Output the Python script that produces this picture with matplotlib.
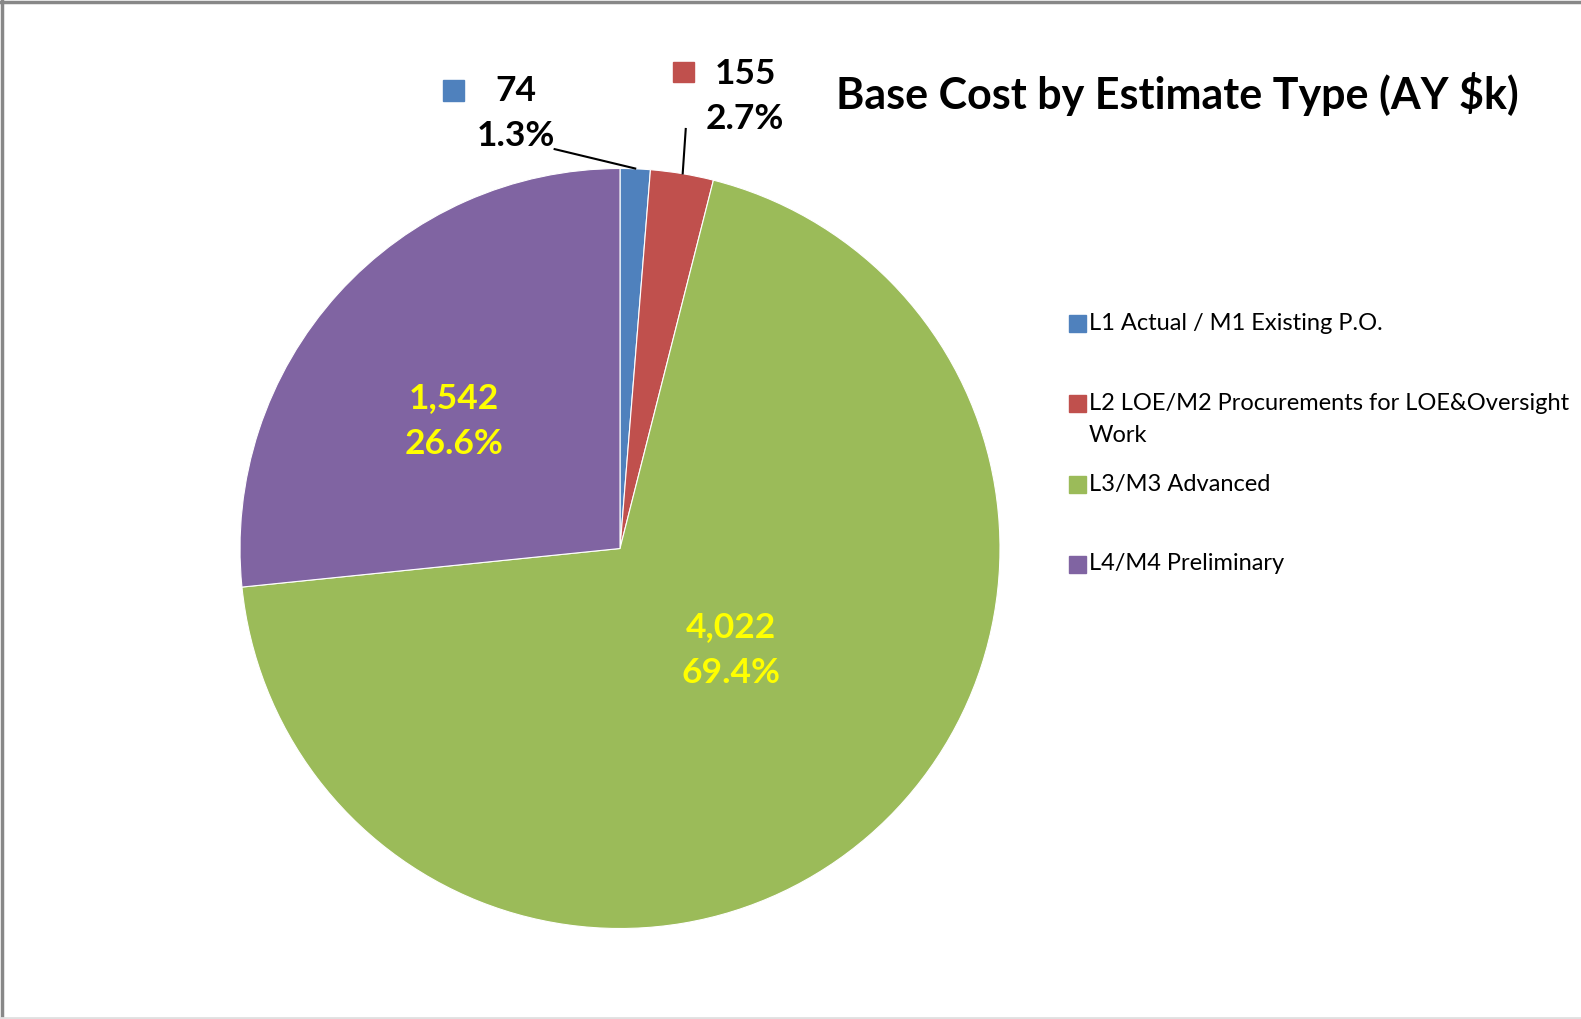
import matplotlib
matplotlib.use("Agg")
import matplotlib.pyplot as plt
from matplotlib.patches import Rectangle
from matplotlib.lines import Line2D
import numpy as np

categories = ["L1 Actual / M1 Existing P.O.",
              "L2 LOE/M2 Procurements for LOE&Oversight\nWork",
              "L3/M3 Advanced",
              "L4/M4 Preliminary"]
values = [74, 155, 4022, 1542]
pct_labels = ["1.3%", "2.7%", "69.4%", "26.6%"]
colors = ["#4F81BD", "#C0504D", "#9BBB59", "#8064A2"]
title = "Base Cost by Estimate Type (AY $k)"

W, H = 1581, 1019
fig = plt.figure(figsize=(W / 100, H / 100), dpi=100)
fig.patch.set_facecolor("white")
FONT = "Lato"

# pie axes: center (620, 548.5), radius 380 px
cx, cy, r = 620, 548.5, 380
ax = fig.add_axes([(cx - r) / W, 1 - (cy + r) / H, 2 * r / W, 2 * r / H])
ax.axis("off")

wedges, _ = ax.pie(values, colors=colors, startangle=90, counterclock=False,
                   radius=1, wedgeprops=dict(edgecolor="white", linewidth=0.8))
ax.set_xlim(-1, 1)
ax.set_ylim(-1, 1)
ax.set_aspect("auto")

LBL = 25.5
LS = 1.52
# inside labels (yellow)
inside = {2: (0.293, -0.267), 3: (-0.437, 0.335)}
for i, (x, y) in inside.items():
    ax.text(x, y, f"{values[i]:,}\n{pct_labels[i]}", ha="center", va="center",
            color="#FFFF00", fontsize=LBL, fontweight="bold", family=FONT,
            linespacing=LS)

# outside labels with legend keys
outside = {0: ((-0.274, 1.145), (-0.437, 1.205)),
           1: ((0.329, 1.19), (0.168, 1.254))}
sq = 0.055
for i, ((tx, ty), (sx, sy)) in outside.items():
    ax.text(tx, ty, f"{values[i]:,}\n{pct_labels[i]}", ha="center", va="center",
            color="black", fontsize=LBL, fontweight="bold", family=FONT,
            linespacing=LS, clip_on=False)
    ax.add_patch(Rectangle((sx - sq / 2, sy - sq / 2), sq, sq, color=colors[i],
                           clip_on=False))

# leader lines
ax.add_line(Line2D([-0.172, 0.040], [1.051, 1.0], color="black", lw=1.5, clip_on=False))
ax.add_line(Line2D([0.173, 0.165], [1.104, 0.987], color="black", lw=1.5, clip_on=False))

# title
fig.text(1177 / W, 1 - 94 / H, title, ha="center", va="center", fontsize=31,
         fontweight="bold", family=FONT)

# legend (manual)
leg_rows = [323, 403, 484, 564]
for i, yy in enumerate(leg_rows):
    s = 17
    fig.patches.append(Rectangle((1069 / W, 1 - (yy + s / 2) / H), s / W, s / H,
                                 color=colors[i], transform=fig.transFigure))
    lines = categories[i].split("\n")
    for k, ln in enumerate(lines):
        fig.text(1089 / W, 1 - (yy + 32 * k) / H, ln, ha="left", va="center",
                 fontsize=17, family=FONT)

# frame border
fig.add_artist(Line2D([0.5 / W, 1], [1 - 1.5 / H, 1 - 1.5 / H], color="#888888", lw=2.5,
                      transform=fig.transFigure))
fig.add_artist(Line2D([1.5 / W, 1.5 / W], [0, 1], color="#888888", lw=2.5,
                      transform=fig.transFigure))
fig.add_artist(Line2D([0, 1], [1 / H, 1 / H], color="#e0e0e0", lw=2,
                      transform=fig.transFigure))

fig.savefig("out.png", dpi=100, facecolor="white")
